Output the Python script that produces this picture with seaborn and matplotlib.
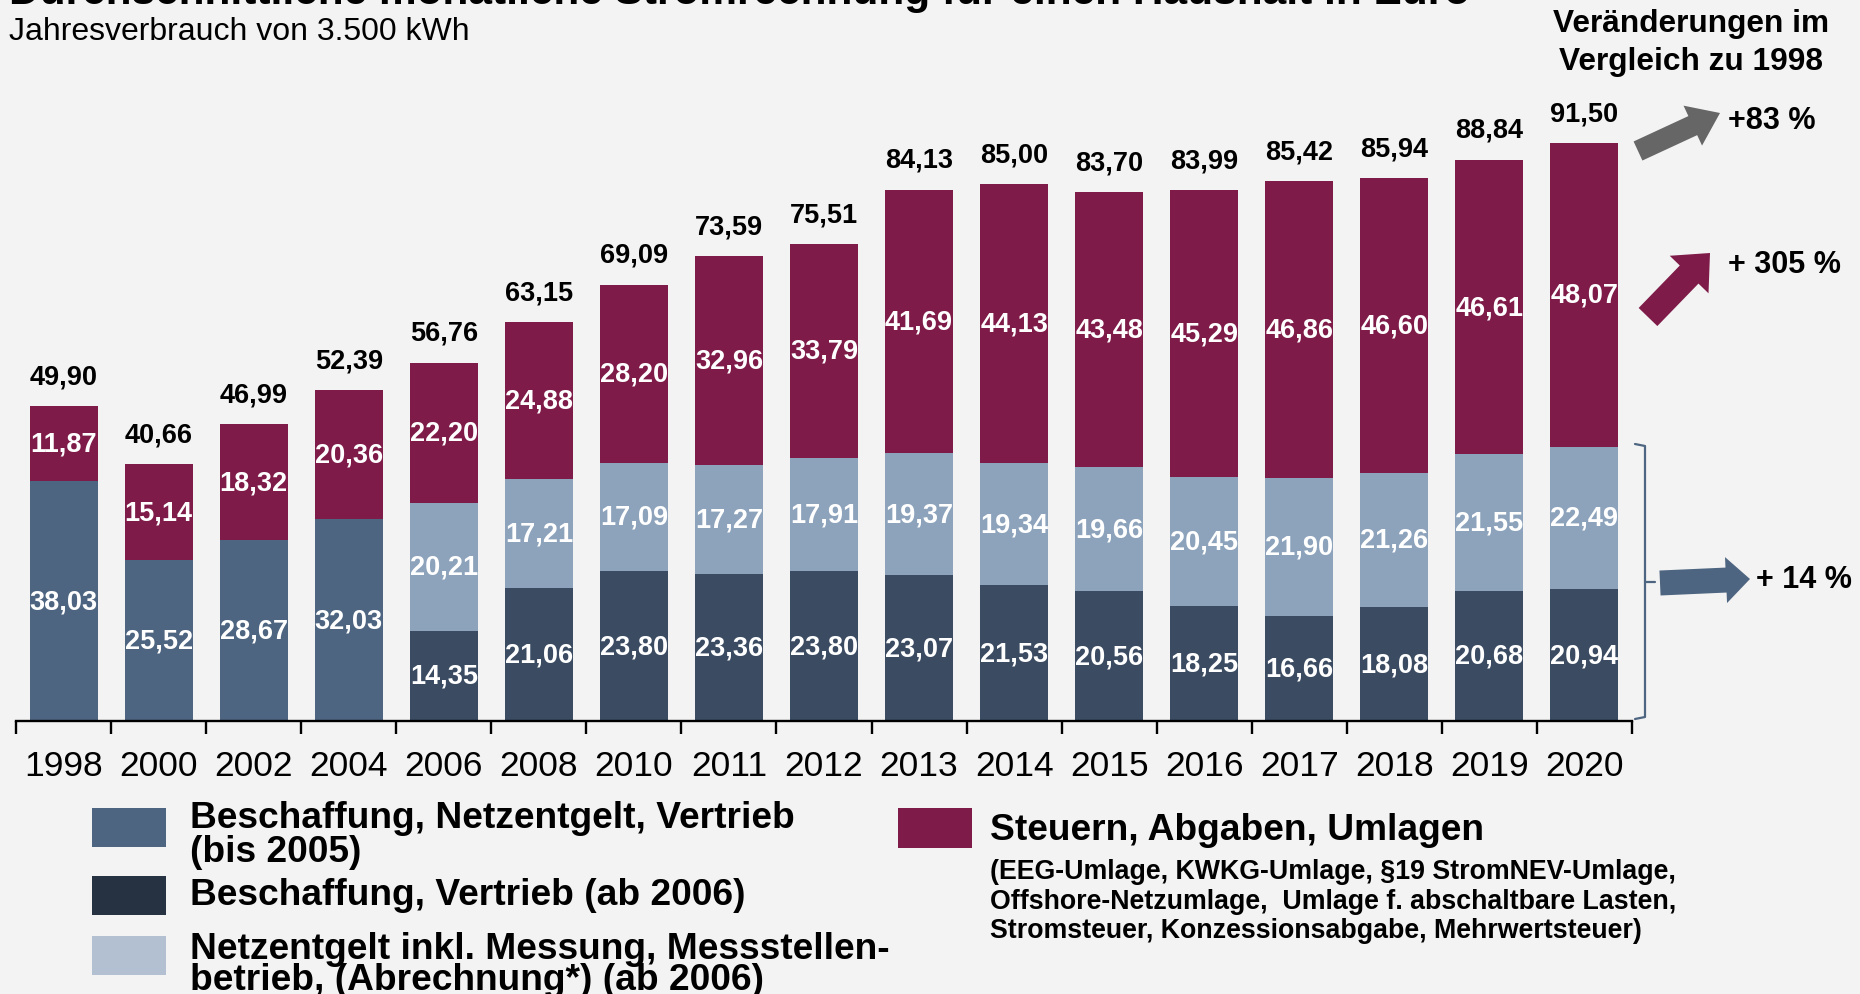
import numpy as np
import pandas as pd
import matplotlib
matplotlib.use("Agg")
import matplotlib.pyplot as plt
import seaborn as sns
from matplotlib.patches import Rectangle, FancyArrow

# Daten (Euro pro Monat, Jahresverbrauch 3.500 kWh)
jahre = ["1998", "2000", "2002", "2004", "2006", "2008", "2010", "2011", "2012",
         "2013", "2014", "2015", "2016", "2017", "2018", "2019", "2020"]
nan = np.nan
beschaffung_netz_vertrieb = [38.03, 25.52, 28.67, 32.03] + [nan] * 13
beschaffung_vertrieb = [nan] * 4 + [14.35, 21.06, 23.80, 23.36, 23.80, 23.07, 21.53,
                                    20.56, 18.25, 16.66, 18.08, 20.68, 20.94]
netzentgelt = [nan] * 4 + [20.21, 17.21, 17.09, 17.27, 17.91, 19.37, 19.34,
                           19.66, 20.45, 21.90, 21.26, 21.55, 22.49]
steuern = [11.87, 15.14, 18.32, 20.36, 22.20, 24.88, 28.20, 32.96, 33.79, 41.69,
           44.13, 43.48, 45.29, 46.86, 46.60, 46.61, 48.07]
gesamt = [49.90, 40.66, 46.99, 52.39, 56.76, 63.15, 69.09, 73.59, 75.51, 84.13,
          85.00, 83.70, 83.99, 85.42, 85.94, 88.84, 91.50]

# Farben
c_blau = "#4e6581"
c_dunkel = "#3a4b62"
c_hell = "#8da3bc"
c_lila = "#7e1b48"
bg = "#f3f3f3"

df = pd.DataFrame({"Jahr": jahre,
                   "bnv": beschaffung_netz_vertrieb,
                   "bv": beschaffung_vertrieb,
                   "netz": netzentgelt,
                   "steuern": steuern,
                   "gesamt": gesamt})
df["unten"] = df["bnv"].fillna(df["bv"])
df["mitte"] = df["unten"] + df["netz"].fillna(0)
df["oben"] = df["mitte"] + df["steuern"]

sns.set_theme(style="white")
plt.rcParams["font.family"] = ["Liberation Sans", "DejaVu Sans"]
plt.rcParams["text.color"] = "black"

W, H = 1860, 995
fig = plt.figure(figsize=(W / 100, H / 100), dpi=100, facecolor=bg)
ax = fig.add_axes([16 / W, (H - 722.3) / H, 1616 / W, 722.3 / H])
ax.set_facecolor("none")

bw = 0.715
sns.barplot(data=df, x="Jahr", y="oben", order=jahre, color=c_lila, saturation=1,
            width=bw, errorbar=None, ax=ax, linewidth=0)
sns.barplot(data=df, x="Jahr", y="mitte", order=jahre, color=c_hell, saturation=1,
            width=bw, errorbar=None, ax=ax, linewidth=0)
farben_unten = {j: (c_blau if not np.isnan(b) else c_dunkel)
                for j, b in zip(jahre, beschaffung_netz_vertrieb)}
sns.barplot(data=df, x="Jahr", y="unten", order=jahre, hue="Jahr", palette=farben_unten,
            legend=False, saturation=1, width=bw, errorbar=None, ax=ax, linewidth=0)


def fmt(v):
    return f"{v:.2f}".replace(".", ",")


lab = dict(color="white", fontsize=19.5, fontweight="bold", ha="center", va="center")
for i, r in df.iterrows():
    ax.text(i, r["unten"] / 2, fmt(r["unten"]), **lab)
    if not np.isnan(r["netz"]):
        ax.text(i, r["unten"] + r["netz"] / 2, fmt(r["netz"]), **lab)
    ax.text(i, r["mitte"] + r["steuern"] / 2, fmt(r["steuern"]), **lab)
    ax.annotate(fmt(r["gesamt"]), (i, r["oben"]), xytext=(0, 16.5), textcoords="offset points",
                ha="center", va="baseline", fontsize=19.5, fontweight="bold", color="black")

ax.set_xlim(-0.5, len(jahre) - 0.5)
ax.set_ylim(0, 722.3 / 6.32)
ax.set_xlabel("")
ax.set_ylabel("")
ax.set_yticks([])
for s in ["top", "right", "left"]:
    ax.spines[s].set_visible(False)
ax.spines["bottom"].set_linewidth(1.7)
ax.spines["bottom"].set_color("black")
ax.set_xticks(np.arange(-0.5, len(jahre), 1), minor=True)
ax.tick_params(axis="x", which="major", length=0, labelsize=25.5, pad=20, colors="black")
ax.tick_params(axis="x", which="minor", length=9, width=1.7, direction="out",
               color="black", bottom=True)

# Overlay in Pixelkoordinaten fuer Beschriftungen und Pfeile
ov = fig.add_axes([0, 0, 1, 1])
ov.set_xlim(0, W)
ov.set_ylim(H, 0)
ov.axis("off")
ov.patch.set_alpha(0)

ov.text(9, 4, "Durchschnittliche monatliche Stromrechnung für einen Haushalt in Euro",
        fontsize=30.5, fontweight="bold", va="baseline", ha="left")
ov.text(9, 32, "Jahresverbrauch von 3.500 kWh", fontsize=23, va="center", ha="left")

ov.text(1691, 24, "Veränderungen im", fontsize=22.8, fontweight="bold", ha="center", va="center")
ov.text(1691, 62, "Vergleich zu 1998", fontsize=22.8, fontweight="bold", ha="center", va="center")

ov.add_patch(FancyArrow(1638, 152, 82, -38, width=21, head_width=44, head_length=30,
                        length_includes_head=True, color="#666666", lw=0))
ov.text(1728, 121, "+83 %", fontsize=22, fontweight="bold", ha="left", va="center")

ov.add_patch(FancyArrow(1648, 318, 62, -64, width=26, head_width=54, head_length=30,
                        length_includes_head=True, color=c_lila, lw=0))
ov.text(1728, 265, "+ 305 %", fontsize=22, fontweight="bold", ha="left", va="center")

# Klammer
ov.plot([1635, 1645, 1645, 1635], [445, 447, 718, 720], color=c_blau, lw=1.6,
        solid_joinstyle="round")
ov.plot([1645, 1655], [583, 583], color=c_blau, lw=1.6)
ov.add_patch(FancyArrow(1660, 584, 90, -4, width=25, head_width=46, head_length=24,
                        length_includes_head=True, color=c_blau, lw=0))
ov.text(1756, 580, "+ 14 %", fontsize=22, fontweight="bold", ha="left", va="center")

# Legende
ov.add_patch(Rectangle((92, 809), 74, 39, color=c_blau, lw=0))
ov.add_patch(Rectangle((92, 877), 74, 39, color="#263241", lw=0))
ov.add_patch(Rectangle((92, 937), 74, 39, color="#b2c0d2", lw=0))
ov.add_patch(Rectangle((898, 809), 74, 40, color=c_lila, lw=0))

leg = dict(fontsize=26.7, fontweight="bold", ha="left", va="baseline")
ov.text(190, 828, "Beschaffung, Netzentgelt, Vertrieb", **leg)
ov.text(190, 862, "(bis 2005)", **leg)
ov.text(190, 905, "Beschaffung, Vertrieb (ab 2006)", **leg)
ov.text(190, 959, "Netzentgelt inkl. Messung, Messstellen-", **leg)
ov.text(190, 990, "betrieb, (Abrechnung*) (ab 2006)", **leg)
ov.text(990, 840, "Steuern, Abgaben, Umlagen", **leg)
klein = dict(fontsize=19.3, fontweight="bold", ha="left", va="baseline")
ov.text(990, 879, "(EEG-Umlage, KWKG-Umlage, §19 StromNEV-Umlage,", **klein)
ov.text(990, 909, "Offshore-Netzumlage,  Umlage f. abschaltbare Lasten,", **klein)
ov.text(990, 938, "Stromsteuer, Konzessionsabgabe, Mehrwertsteuer)", **klein)

fig.savefig("out.png", dpi=100, facecolor=bg)
